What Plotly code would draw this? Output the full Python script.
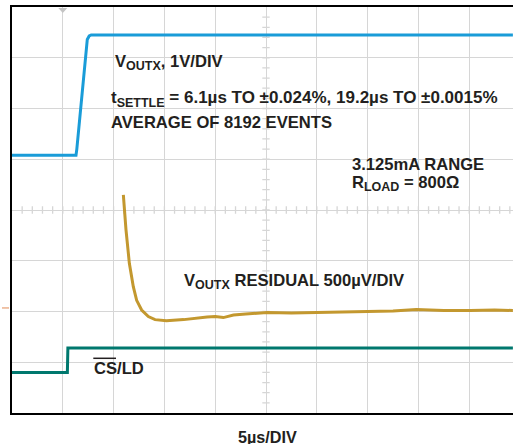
import numpy as np
import plotly.graph_objects as go

# canvas / plot area (pixels)
W, H = 513, 444
L, R, T, B = 12, 0, 7, 31
PW, PH = W - L - R, H - T - B
DIV_PX = 50.8            # horizontal pixels per division
US_PER_DIV = 5
X_MAX = PW / DIV_PX * US_PER_DIV   # right edge is cut off before the 10th division
N_YDIV = 8

BLUE = "#1a9cd8"
GOLD = "#c3982f"
TEAL = "#00786e"
GRID = "#d6d6d6"
TEXT = "#231f20"
FONT = "Liberation Sans, Arial, sans-serif"

# V_OUTX, 1V/DIV  (time in us, level in screen divisions)
t_vout = [0, 6.30, 6.38, 7.41, 7.60, 7.80, 49.3]
vout_div = [5.08, 5.08, 5.20, 7.36, 7.43, 7.45, 7.45]

# V_OUTX residual, 500uV/DIV
t_res = [10.96, 11.22, 11.55, 11.94, 12.27, 12.76, 13.42, 14.08, 15.2, 16.9,
         19.2, 20.0, 20.8, 21.8, 23.0, 25.1, 27.5, 30.0, 32.5, 34.9,
         37.5, 39.8, 42.5, 45.1, 47.5, 49.3]
res_div = [4.30, 3.61, 2.95, 2.49, 2.22, 2.03, 1.90, 1.84, 1.82, 1.84,
           1.89, 1.90, 1.88, 1.93, 1.95, 1.98, 1.97, 1.98, 1.99, 2.00,
           2.01, 2.04, 2.02, 2.02, 2.03, 2.02]

# CS/LD
t_cs = [0, 5.45, 5.50, 49.3]
cs_div = [0.80, 0.80, 1.28, 1.28]

TRIGGER_T = 5
RES_OFFSET_DIV = 2.07


def px(x):
    return (x - L) / PW


def py(y):
    return (H - B - y) / PH


def sub(s):
    return f"<sub><span style='font-size:12.5px'>{s}</span></sub>"


fig = go.Figure()
for x, y, c, name in [(t_vout, vout_div, BLUE, "VOUTX"),
                      (t_res, res_div, GOLD, "Residual"),
                      (t_cs, cs_div, TEAL, "CS/LD")]:
    fig.add_trace(go.Scatter(x=x, y=y, mode="lines", name=name,
                             line=dict(color=c, width=3), hoverinfo="skip"))

shapes = []

# minor ticks on the centre crosshair
tx = 3.7 / DIV_PX * US_PER_DIV
ty = 3.7 / (PH / N_YDIV)
path = ""
for t in np.arange(1, X_MAX, 1.0):
    path += f"M{t},{4 - ty}L{t},{4 + ty}"
for v in np.arange(0.2, N_YDIV, 0.2):
    path += f"M{25 - tx},{v}L{25 + tx},{v}"
shapes.append(dict(type="path", path=path, layer="below",
                   line=dict(color=GRID, width=1.3)))

# white boxes behind the labels (they break the graticule)
for x0, x1, y0, y1 in [(107, 233, 48, 78), (105, 507, 87, 136),
                       (345, 495, 148, 196), (172, 410, 269, 300),
                       (88, 152, 355, 387)]:
    shapes.append(dict(type="rect", xref="paper", yref="paper",
                       x0=px(x0), x1=px(x1), y0=py(y1), y1=py(y0),
                       fillcolor="white", line_width=0, layer="between"))

# trigger marker and residual offset marker
tp = px(L + TRIGGER_T / US_PER_DIV * DIV_PX)
shapes.append(dict(type="path", xref="paper", yref="paper",
                   path=f"M{tp - 4.5 / PW},{py(8)}L{tp + 4.5 / PW},{py(8)}L{tp},{py(13)}Z",
                   fillcolor="#c4c4c4", line_width=0))
shapes.append(dict(type="line", xref="paper", yref="y",
                   x0=px(2), x1=px(9), y0=RES_OFFSET_DIV, y1=RES_OFFSET_DIV,
                   line=dict(color="#e8a57c", width=1.3)))

# overline on CS
shapes.append(dict(type="line", xref="paper", yref="paper",
                   x0=px(93.3), x1=px(116), y0=py(358.3), y1=py(358.3),
                   line=dict(color=TEXT, width=1.5)))

labels = [
    (f"V{sub('OUTX')}, 1V/DIV", 114, 62, 16.6),
    (f"t{sub('SETTLE')} = 6.1µs TO ±0.024%, 19.2µs TO ±0.0015%", 110, 99.5, 17),
    ("AVERAGE OF 8192 EVENTS", 110, 122.5, 16.6),
    ("3.125mA RANGE", 351, 164, 16.6),
    (f"R{sub('LOAD')} = 800Ω", 351, 183, 16.6),
    (f"V{sub('OUTX')} RESIDUAL 500µV/DIV", 183, 281.5, 16.6),
    ("CS/LD", 93, 368.5, 16.6),
]
annotations = []
for text, x, y, size in labels:
    annotations.append(dict(text=text, x=px(x), y=py(y), xref="paper", yref="paper",
                            xanchor="left", yanchor="middle", showarrow=False,
                            borderpad=0,
                            font=dict(family=FONT, size=size, color=TEXT, weight="bold")))
annotations.append(dict(text="5µs/DIV", x=px(267), y=py(437), xref="paper",
                        yref="paper", xanchor="center", yanchor="middle",
                        showarrow=False, borderpad=0,
                        font=dict(family=FONT, size=16.2, color=TEXT, weight="bold")))

fig.update_layout(
    width=W, height=H,
    margin=dict(l=L, r=R, t=T, b=B, autoexpand=False),
    plot_bgcolor="white", paper_bgcolor="white",
    showlegend=False,
    shapes=shapes,
    annotations=annotations,
)
fig.update_xaxes(range=[0, X_MAX], dtick=US_PER_DIV, tick0=0, showgrid=True,
                 gridcolor=GRID, gridwidth=1.3, showticklabels=False, ticks="",
                 zeroline=False, showline=True, mirror=True, linecolor="black",
                 linewidth=2, fixedrange=True)
fig.update_yaxes(range=[0, N_YDIV], dtick=1, tick0=0, showgrid=True,
                 gridcolor=GRID, gridwidth=1.3, showticklabels=False, ticks="",
                 zeroline=False, showline=True, mirror=False, linecolor="black",
                 linewidth=2, fixedrange=True)

# page body has a default 8px margin; drop it so the figure sits at the window corner
fig.write_html("out.html", config={"displayModeBar": False},
               post_script="document.body.style.margin='0';")
